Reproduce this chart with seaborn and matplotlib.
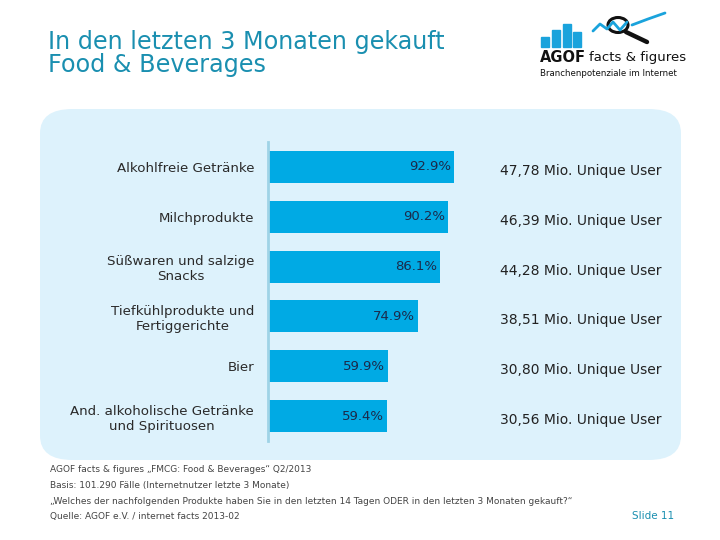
import matplotlib
matplotlib.use('Agg')

import numpy as np
import pandas as pd
import seaborn as sns
import matplotlib.pyplot as plt
from matplotlib.patches import FancyBboxPatch, Rectangle, Circle
from matplotlib.lines import Line2D

categories = ['Alkohlfreie Getränke', 'Milchprodukte', 'Süßwaren und salzige\nSnacks',
              'Tiefkühlprodukte und\nFertiggerichte', 'Bier',
              'And. alkoholische Getränke\nund Spirituosen']
share = [92.9, 90.2, 86.1, 74.9, 59.9, 59.4]
users = ['47,78', '46,39', '44,28', '38,51', '30,80', '30,56']

df = pd.DataFrame({'Kategorie': categories, 'Anteil': share})

W, H = 720, 540
def fx(x):
    return x / W
def fy(y):
    return 1 - y / H

sns.set_style('white')
plt.rcParams['font.family'] = ['DejaVu Sans']

fig = plt.figure(figsize=(7.2, 5.4), dpi=100)
fig.patch.set_facecolor('white')

# light blue rounded panel, behind the axes
panel = FancyBboxPatch((fx(40), fy(460)), fx(641), fy(109) - fy(460),
                       boxstyle='round,pad=0,rounding_size=0.045',
                       transform=fig.transFigure, facecolor='#ddf2fc',
                       edgecolor='none', zorder=-5)
fig.patches.append(panel)

ax = fig.add_axes([fx(268), fy(441), fx(200), fy(142) - fy(441)])
ax.set_zorder(2)
ax.set_facecolor('none')
sns.barplot(data=df, x='Anteil', y='Kategorie', color='#00aae4', width=0.64,
            saturation=1, linewidth=0, edgecolor='none', ax=ax)
ax.set_xlim(0, 100)
ax.set_ylim(5.5, -0.5)
ax.set_xlabel('')
ax.set_ylabel('')
ax.set_xticks([])
for s in ['top', 'right', 'bottom']:
    ax.spines[s].set_visible(False)
ax.spines['left'].set_color('#9fd3e6')
ax.spines['left'].set_linewidth(2)
ax.tick_params(axis='y', length=0, pad=10)
for lab in ax.get_yticklabels():
    lab.set_fontsize(9.6)
    lab.set_color('#2a2a2a')
    lab.set_multialignment('center')

for i, v in enumerate(share):
    ax.text(v - 1.5, i, f'{v:.1f}%', ha='right', va='center', fontsize=9.5,
            color='#1b2a4a')
    ax.text(116, i + 0.08, f'{users[i]} Mio. Unique User', ha='left', va='center',
            fontsize=10, color='#222222', clip_on=False)

# title
fig.text(fx(48), fy(42), 'In den letzten 3 Monaten gekauft', fontsize=17.2,
         color='#1a8fb0', va='center', ha='left')
fig.text(fx(48), fy(65), 'Food & Beverages', fontsize=17.2,
         color='#1a8fb0', va='center', ha='left')

# logo
for x0, y0 in [(541, 37), (552, 30), (563, 24), (573, 32)]:
    fig.patches.append(Rectangle((fx(x0), fy(47)), fx(8), fy(y0) - fy(47),
                                 transform=fig.transFigure, color='#1aa3dc'))
fig.lines.append(Line2D([fx(593), fx(600), fx(607), fx(613), fx(620), fx(627)],
                        [fy(31), fy(24), fy(29), fy(22), fy(30), fy(22)],
                        transform=fig.transFigure, color='#1aa3dc', lw=2))
fig.lines.append(Line2D([fx(632), fx(648), fx(665)],
                        [fy(25), fy(19), fy(13)],
                        transform=fig.transFigure, color='#1aa3dc', lw=2))
fig.patches.append(Circle((fx(618), fy(25)), fx(10), transform=fig.transFigure,
                          facecolor='none', edgecolor='#111111', lw=2.2))
fig.lines.append(Line2D([fx(626), fx(647)], [fy(32), fy(42)],
                        transform=fig.transFigure, color='#111111', lw=3.2))
fig.text(fx(540), fy(58), 'AGOF', fontsize=10.5, fontweight='bold',
         color='#111111', va='center', ha='left')
fig.text(fx(589), fy(58), 'facts & figures', fontsize=9.5,
         color='#111111', va='center', ha='left')
fig.text(fx(540), fy(73), 'Branchenpotenziale im Internet', fontsize=6.2,
         color='#111111', va='center', ha='left')

# footer
footer = ['AGOF facts & figures „FMCG: Food & Beverages“ Q2/2013',
          'Basis: 101.290 Fälle (Internetnutzer letzte 3 Monate)',
          '„Welches der nachfolgenden Produkte haben Sie in den letzten 14 Tagen ODER in den letzten 3 Monaten gekauft?“',
          'Quelle: AGOF e.V. / internet facts 2013-02']
for k, line in enumerate(footer):
    fig.text(fx(50), fy(470 + k * 15.5), line, fontsize=6.5, color='#444444',
             va='center', ha='left')
fig.text(fx(632), fy(516), 'Slide 11', fontsize=7.5, color='#1a8fb0',
         va='center', ha='left')

fig.savefig('out.png', dpi=100)
